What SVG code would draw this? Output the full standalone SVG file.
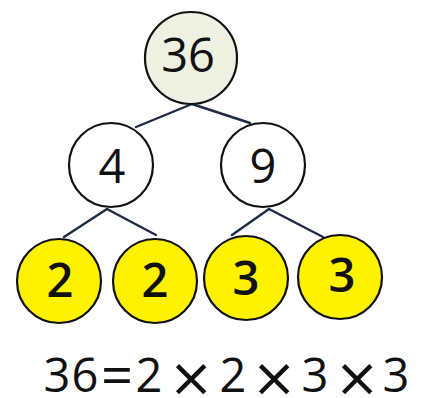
<svg xmlns="http://www.w3.org/2000/svg" width="426" height="398" viewBox="0 0 426 398">
<style>
.n{stroke:#111;stroke-width:2.2}
.w{fill:#fff}
.y{fill:#fff200}
.r{fill:#eef0e2}
.t{font-family:"Open Sans","Noto Sans",sans-serif;font-size:47px;fill:#111;text-anchor:middle}
.b{font-weight:600}
.x{font-family:"DejaVu Sans",sans-serif;font-size:54px;dominant-baseline:central}
.c{stroke:#1e2b45;stroke-width:2.4;fill:none;stroke-linecap:round}
</style>
<rect width="426" height="398" fill="#fff"/>
<g id="connectors">
<line class="c" x1="192" y1="104" x2="136" y2="127"/>
<line class="c" x1="192" y1="104" x2="250" y2="123"/>
<line class="c" x1="107" y1="209" x2="64" y2="237"/>
<line class="c" x1="107" y1="209" x2="156" y2="235"/>
<line class="c" x1="269" y1="209" x2="232" y2="235"/>
<line class="c" x1="269" y1="209" x2="323" y2="237"/>
</g>
<g id="n36"><circle class="n r" cx="191" cy="58" r="46"/><text class="t" x="188" y="72">36</text></g>
<g id="n4"><circle class="n w" cx="111" cy="165" r="42"/><text class="t" x="112" y="183">4</text></g>
<g id="n9"><circle class="n w" cx="263" cy="165" r="42"/><text class="t" x="263" y="183">9</text></g>
<g id="n2a"><circle class="n y" cx="59" cy="281" r="42"/><text class="t b" x="60" y="297">2</text></g>
<g id="n2b"><circle class="n y" cx="155" cy="281" r="42"/><text class="t b" x="155" y="297">2</text></g>
<g id="n3a"><circle class="n y" cx="246" cy="278" r="42"/><text class="t b" x="246" y="295">3</text></g>
<g id="n3b"><circle class="n y" cx="340" cy="277" r="42"/><text class="t b" x="342" y="292">3</text></g>
<text class="t" y="392"><tspan x="57 85">36</tspan><tspan x="117" y="395" font-size="56">=</tspan><tspan x="149" y="392">2</tspan><tspan class="x" x="191" y="377">×</tspan><tspan x="233" y="392">2</tspan><tspan class="x" x="274" y="377">×</tspan><tspan x="315" y="392">3</tspan><tspan class="x" x="357" y="377">×</tspan><tspan x="396" y="392">3</tspan></text>
</svg>
